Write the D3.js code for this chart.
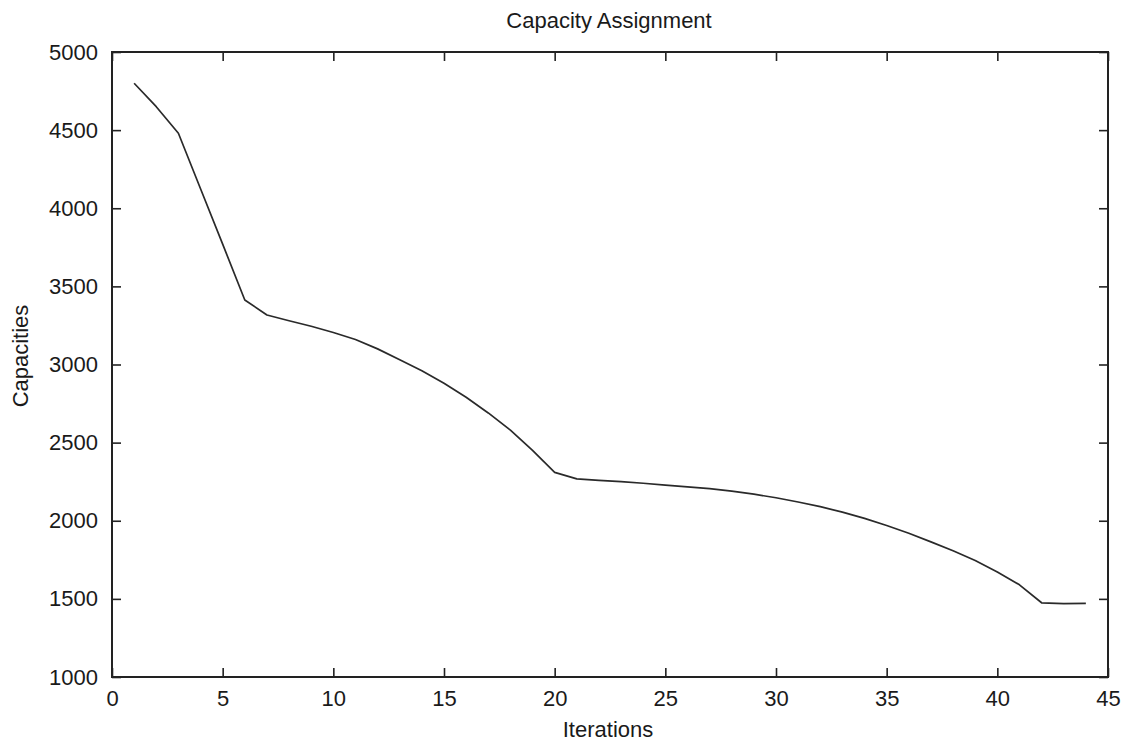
<!DOCTYPE html>
<html>
<head>
<meta charset="utf-8">
<script src="https://cdn.jsdelivr.net/npm/d3@7"></script>
<style>
  html, body { margin: 0; padding: 0; background: #fff; }
  svg { display: block; }
  text { font-family: "Liberation Sans", Arial, Helvetica, sans-serif; fill: #1a1a1a; }
</style>
</head>
<body>
<script>
// Capacity per iteration
const iterations = d3.range(1, 45);
const capacities = [
  4800, 4650, 4480, 4125, 3770, 3413, 3317, 3280, 3245, 3205,
  3160, 3100, 3030, 2960, 2880, 2790, 2690, 2580, 2450, 2310,
  2268, 2258, 2250, 2240, 2228, 2217, 2205, 2190, 2170, 2147,
  2120, 2090, 2055, 2015, 1970, 1920, 1865, 1808, 1745, 1672,
  1590, 1475, 1470, 1471
];
const xTicks = [0, 5, 10, 15, 20, 25, 30, 35, 40, 45];
const yTicks = [1000, 1500, 2000, 2500, 3000, 3500, 4000, 4500, 5000];

const W = 1133, H = 742;
const margin = { left: 112, right: 25, top: 52, bottom: 65 };
const innerW = W - margin.left - margin.right;
const innerH = H - margin.top - margin.bottom;

const svg = d3.select("body").append("svg").attr("width", W).attr("height", H);
const g = svg.append("g").attr("transform", `translate(${margin.left},${margin.top})`);

const x = d3.scaleLinear().domain([0, 45]).range([0, innerW]);
const y = d3.scaleLinear().domain([1000, 5000]).range([innerH, 0]);

const tickLen = 9;
const fontSize = 22;
const fmt = d3.format("d");

// bottom and left axes with labels, ticks pointing inward
const xAxis = g.append("g").attr("transform", `translate(0,${innerH})`)
  .call(d3.axisBottom(x).tickValues(xTicks).tickFormat(fmt)
    .tickSizeInner(-tickLen).tickSizeOuter(0).tickPadding(13));
const yAxis = g.append("g")
  .call(d3.axisLeft(y).tickValues(yTicks).tickFormat(fmt)
    .tickSizeInner(-tickLen).tickSizeOuter(0).tickPadding(14));
// mirrored ticks on top and right
const xTop = g.append("g")
  .call(d3.axisTop(x).tickValues(xTicks).tickSizeInner(-tickLen).tickSizeOuter(0).tickFormat(""));
const yRight = g.append("g").attr("transform", `translate(${innerW},0)`)
  .call(d3.axisRight(y).tickValues(yTicks).tickSizeInner(-tickLen).tickSizeOuter(0).tickFormat(""));

[xAxis, yAxis, xTop, yRight].forEach(a => {
  a.attr("font-size", null).attr("font-family", null);
  a.select(".domain").remove();
  a.selectAll(".tick line").attr("stroke", "#222").attr("stroke-width", 1.6);
  a.selectAll(".tick text")
    .style("font-size", fontSize + "px")
    .style("font-family", "'Liberation Sans', Arial, sans-serif")
    .attr("fill", "#1a1a1a");
});

// frame
g.append("rect")
  .attr("x", 0).attr("y", 0).attr("width", innerW).attr("height", innerH)
  .attr("fill", "none").attr("stroke", "#222").attr("stroke-width", 2);

// series line
const line = d3.line()
  .x((d, i) => x(iterations[i]))
  .y(d => y(d));
g.append("path")
  .datum(capacities)
  .attr("fill", "none")
  .attr("stroke", "#2a2a2a")
  .attr("stroke-width", 1.7)
  .attr("stroke-linejoin", "round")
  .attr("d", line);

// titles
svg.append("text")
  .attr("x", 609).attr("y", 28)
  .attr("text-anchor", "middle").style("font-size", "22px")
  .text("Capacity Assignment");
svg.append("text")
  .attr("x", 608).attr("y", 737)
  .attr("text-anchor", "middle").style("font-size", "22px")
  .text("Iterations");
svg.append("text")
  .attr("transform", `translate(28,356) rotate(-90)`)
  .attr("text-anchor", "middle").style("font-size", "22px")
  .text("Capacities");
</script>
</body>
</html>
